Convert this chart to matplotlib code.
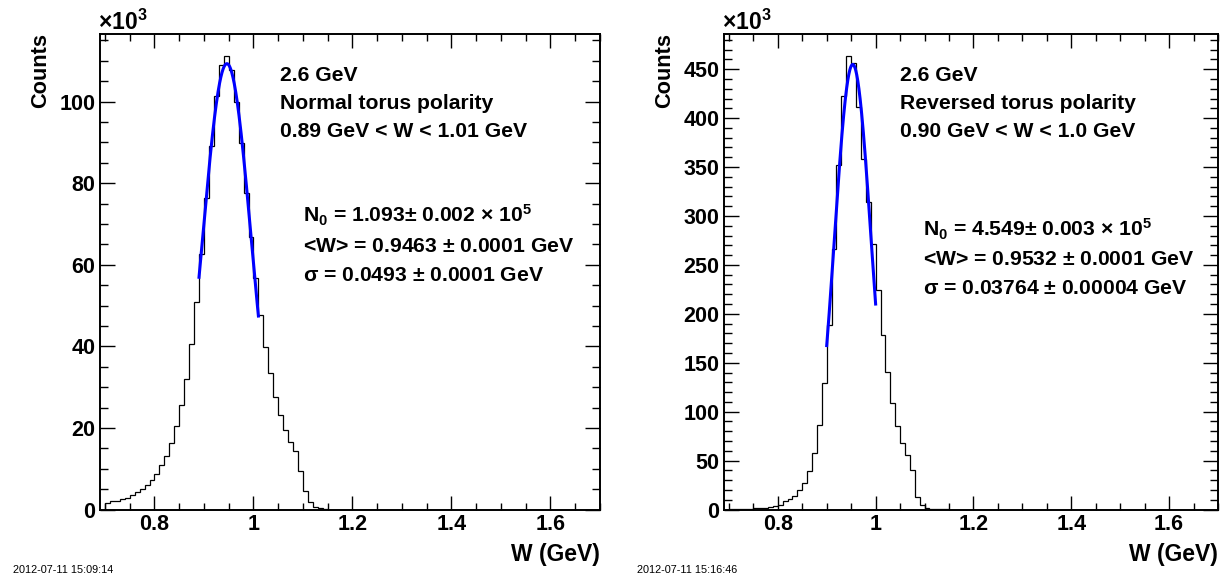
import numpy as np
import matplotlib
matplotlib.use('Agg')
import matplotlib.pyplot as plt
from matplotlib.ticker import MultipleLocator, FuncFormatter

plt.rcParams['font.family'] = ['Liberation Sans', 'DejaVu Sans']
plt.rcParams['mathtext.fontset'] = 'custom'
plt.rcParams['mathtext.rm'] = 'Liberation Sans'
plt.rcParams['mathtext.bf'] = 'Liberation Sans:bold'
plt.rcParams['mathtext.default'] = 'regular'

# histogrammes en W, bins de 0.01 GeV a partir de 0.70 GeV (comptes en milliers)
bin_lo = 0.70
bin_w = 0.01
counts_normal = [1.6, 2.0, 2.2, 2.5, 2.9, 3.6, 4.2, 5.0, 5.9, 7.3,
                 8.8, 11.0, 13.2, 16.4, 20.4, 25.6, 32.1, 40.5, 50.9, 62.7,
                 76.4, 89.0, 101.4, 109.0, 111.1, 107.8, 100.0, 89.9, 77.7, 66.9,
                 56.8, 47.7, 39.9, 33.4, 27.6, 23.2, 19.5, 16.6, 14.4, 9.4,
                 4.5, 1.9, 0.7, 0.3, 0.1]
counts_reversed = [0.3, 0.5, 0.6, 0.8, 1.0, 1.2, 1.5, 2.0, 2.5, 3.3,
                   4.5, 8.2, 10.6, 14.0, 20.1, 27.3, 38.9, 58.0, 86.4, 128.8,
                   189.0, 266.0, 351.6, 422.6, 463.2, 456.4, 411.3, 358.0, 314.0, 271.6,
                   224.6, 178.8, 140.9, 109.3, 84.9, 67.6, 55.6, 40.6, 12.4, 4.9,
                   1.9, 0.8, 0.4, 0.2, 0.1]

# parametres des fits gaussiens (N0 en milliers)
fit_normal = dict(n0=109.3, mean=0.9463, sigma=0.0493, lo=0.89, hi=1.01)
fit_reversed = dict(n0=454.9, mean=0.9532, sigma=0.03764, lo=0.90, hi=1.00)

labels_normal = ['2.6 GeV', 'Normal torus polarity', '0.89 GeV < W < 1.01 GeV']
labels_reversed = ['2.6 GeV', 'Reversed torus polarity', '0.90 GeV < W < 1.0 GeV']
fit_text_normal = [r'N$_{\mathbf{0}}$ = 1.093$\pm$ 0.002 $\times$ 10$^{\mathbf{5}}$',
                   r'<W> = 0.9463 $\pm$ 0.0001 GeV',
                   r'$\sigma$ = 0.0493 $\pm$ 0.0001 GeV']
fit_text_reversed = [r'N$_{\mathbf{0}}$ = 4.549$\pm$ 0.003 $\times$ 10$^{\mathbf{5}}$',
                     r'<W> = 0.9532 $\pm$ 0.0001 GeV',
                     r'$\sigma$ = 0.03764 $\pm$ 0.00004 GeV']
stamps = ['2012-07-11 15:09:14', '2012-07-11 15:16:46']

W, H = 1228, 575


def fx(px):
    return px / W


def fy(py):
    return 1 - py / H


def draw_panel(fig, left, width, counts, fit, ymax, ymaj, ymin, labels, fit_text,
               off, lab_x, fit_base, stamp):
    ax = fig.add_axes([fx(left), fy(509.5), fx(width), (509.5 - 33.5) / H])
    edges = bin_lo + bin_w * np.arange(len(counts) + 1)
    ax.stairs(counts, edges, color='black', linewidth=0.9, baseline=0)

    x = np.linspace(fit['lo'], fit['hi'], 200)
    y = fit['n0'] * np.exp(-0.5 * ((x - fit['mean']) / fit['sigma']) ** 2)
    ax.plot(x, y, color='#0000ff', linewidth=2.2)

    ax.set_xlim(0.69, 1.70)
    ax.set_ylim(0, ymax)
    ax.xaxis.set_major_locator(MultipleLocator(0.2))
    ax.xaxis.set_minor_locator(MultipleLocator(0.05))
    ax.yaxis.set_major_locator(MultipleLocator(ymaj))
    ax.yaxis.set_minor_locator(MultipleLocator(ymin))
    ax.xaxis.set_major_formatter(FuncFormatter(lambda v, p: '%g' % round(v, 2)))
    ax.yaxis.set_major_formatter(FuncFormatter(lambda v, p: '%g' % v))
    ax.tick_params(which='both', direction='in', top=True, right=True, width=1.0)
    ax.tick_params(axis='x', which='major', length=10, pad=3, labelsize=15.5)
    ax.tick_params(axis='x', which='minor', length=5)
    ax.tick_params(axis='y', which='major', length=11, pad=3.5, labelsize=15.5)
    ax.tick_params(axis='y', which='minor', length=5.5)
    for lab in ax.get_xticklabels() + ax.get_yticklabels():
        lab.set_fontweight('bold')
    for s in ax.spines.values():
        s.set_linewidth(1.4)

    # textes
    fig.text(fx(left - 2), fy(30), r'$\times$10$^{\mathbf{3}}$', fontsize=16.5,
             fontweight='bold', va='baseline', ha='left')
    fig.text(fx(off + 41), fy(33.5), 'Counts', rotation=90, fontsize=15.7,
             fontweight='bold', ha='center', va='top')
    fig.text(fx(left + width), fy(555), 'W (GeV)', fontsize=16.5,
             fontweight='bold', ha='right', va='center')
    for i, t in enumerate(labels):
        fig.text(fx(lab_x), fy(81 + 28.2 * i), t, fontsize=15.2,
                 fontweight='bold', va='baseline')
    for i, t in enumerate(fit_text):
        fig.text(fx(lab_x + 23), fy(fit_base + 28.8 * i), t, fontsize=15.2,
                 fontweight='bold', va='baseline')
    fig.text(fx(off + 13), fy(570), stamp, fontsize=7.8, va='center')
    return ax


fig = plt.figure(figsize=(W / 100, H / 100), dpi=100)
fig.patch.set_facecolor('white')

draw_panel(fig, 100, 500, counts_normal, fit_normal, 116.7, 20, 5,
           labels_normal, fit_text_normal, 0, 280, 223, stamps[0])
draw_panel(fig, 724, 494, counts_reversed, fit_reversed, 486.5, 50, 10,
           labels_reversed, fit_text_reversed, 624, 900, 236.5, stamps[1])

fig.savefig('out.png', dpi=100)
